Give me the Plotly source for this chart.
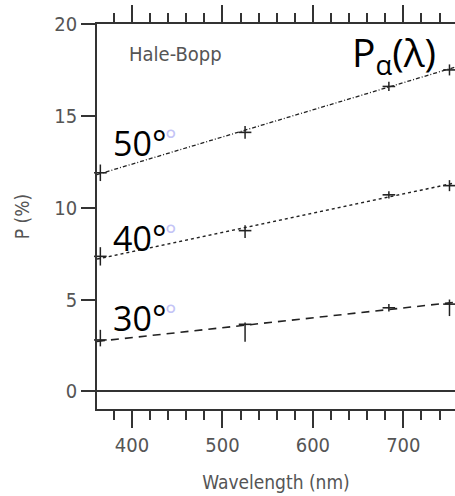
import plotly.graph_objects as go

# ---- data ----
wavelength = [365, 525, 684, 751]
p50 = [11.9, 14.1, 16.6, 17.5]
p40 = [7.35, 8.75, 10.7, 11.2]
p30 = [2.8, 3.65, 4.55, 4.75]
err50_plus = [0.45, 0.35, 0.25, 0.3]
err50_minus = [0.45, 0.35, 0.25, 0.3]
err40_plus = [0.5, 0.3, 0.2, 0.3]
err40_minus = [0.5, 0.4, 0.2, 0.3]
err30_plus = [0.55, 0.1, 0.2, 0.25]
err30_minus = [0.35, 0.95, 0.2, 0.65]

fit_x = [361.3, 757.1]
fit50 = [11.8, 17.65]
fit40 = [7.2, 11.35]
fit30 = [2.72, 4.85]

x_range = [361.3, 757.1]
y_range = [-0.96, 20]

INK = "#222222"
AXIS = "#333333"
LABEL = "#555555"
NARROW = "DejaVu Sans Condensed, Liberation Sans Narrow, Liberation Sans, Arial, sans-serif"
FS = 20

fig = go.Figure()

fits = [(fit50, "4px,2px,1px,2px", 1.3), (fit40, "3px,3px", 1.5), (fit30, "8px,6px", 1.6)]
for vals, dash, w in fits:
    fig.add_trace(go.Scatter(x=fit_x, y=vals, mode="lines",
                             line=dict(color=INK, width=w, dash=dash),
                             showlegend=False, hoverinfo="skip"))

pts = [(p50, err50_plus, err50_minus), (p40, err40_plus, err40_minus), (p30, err30_plus, err30_minus)]
for vals, ep, em in pts:
    fig.add_trace(go.Scatter(
        x=wavelength, y=vals, mode="markers", cliponaxis=False,
        marker=dict(symbol="line-ew", size=9, line=dict(color=INK, width=1.6)),
        error_y=dict(type="data", symmetric=False, array=ep, arrayminus=em,
                     color=INK, thickness=1.5, width=0),
        showlegend=False))

# invisible traces to bind the extra tick axes
for ax in ["x2", "x3", "x4"]:
    fig.add_trace(go.Scatter(x=fit_x, y=fit30, xaxis=ax, mode="lines",
                             line=dict(width=0), opacity=0, showlegend=False,
                             hoverinfo="skip"))


def tick_axis(side, dtick, ticklen):
    return dict(range=x_range, side=side, tickmode="linear", tick0=0, dtick=dtick,
                automargin=False, showticklabels=False, ticks="outside",
                ticklen=ticklen, tickwidth=1.5, tickcolor=AXIS, showline=True,
                linecolor=AXIS, linewidth=1.5, showgrid=False, zeroline=False,
                overlaying="x")


fig.update_layout(
    width=455, height=496,
    margin=dict(l=97, r=0, t=24, b=87, autoexpand=False),
    paper_bgcolor="white", plot_bgcolor="white",
    font=dict(family=NARROW, size=FS, color=LABEL),
    xaxis=dict(range=x_range, tickmode="linear", tick0=0, dtick=100,
               ticks="outside", ticklen=17, automargin=False,
               tickwidth=1.5, tickcolor=AXIS, showline=True, linecolor=AXIS,
               linewidth=1.5, showgrid=False, zeroline=False,
               tickfont=dict(family=NARROW, size=FS, color=LABEL),
               title=dict(text="Wavelength (nm)", standoff=20,
                          font=dict(family=NARROW, size=19, color=LABEL))),
    xaxis2=tick_axis("top", 100, 17),
    xaxis3=tick_axis("bottom", 20, 9),
    xaxis4=tick_axis("top", 20, 9),
    yaxis=dict(range=y_range, tickmode="linear", tick0=0, dtick=5,
               ticks="outside", ticklen=14, automargin=False,
               tickwidth=1.5, tickcolor=AXIS, showline=True, linecolor=AXIS,
               linewidth=1.5, showgrid=False, zeroline=True, zerolinecolor=AXIS,
               zerolinewidth=1.8,
               tickfont=dict(family=NARROW, size=FS, color=LABEL),
               title=dict(text="P (%)", standoff=20,
                          font=dict(family=NARROW, size=19, color=LABEL))),
)

BIG = "Open Sans, Noto Sans, sans-serif"
for txt, yv in [("50°", 13.5), ("40°", 8.35), ("30°", 4.0)]:
    fig.add_annotation(x=377, y=yv, text=txt, showarrow=False,
                       xanchor="left", yanchor="middle",
                       font=dict(family=BIG, size=34, color="black"))
    fig.add_annotation(x=434, y=yv + 0.2, text="°", showarrow=False,
                       xanchor="left", yanchor="middle",
                       font=dict(family=BIG, size=27, color="#c4c4f6"))

fig.add_annotation(x=395, y=18.35, text="Hale-Bopp", showarrow=False,
                   xanchor="left", yanchor="middle",
                   font=dict(family=NARROW, size=FS, color=LABEL))
fig.add_annotation(x=641, y=19.9, yshift=3, text="P<sub>α</sub>(λ)", showarrow=False,
                   xanchor="left", yanchor="top",
                   font=dict(family=BIG, size=39, color="black"))

fig.write_html("out.html", config={"displayModeBar": False},
               post_script="document.body.style.margin='0';document.body.style.overflow='hidden';")
